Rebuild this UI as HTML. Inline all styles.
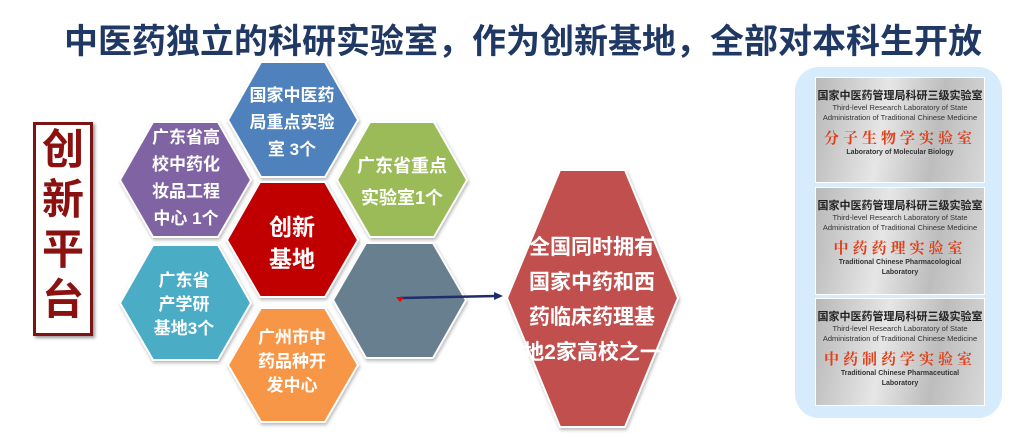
<!DOCTYPE html>
<html><head><meta charset="utf-8"><style>
body{margin:0;width:1025px;height:442px;background:#fff;position:relative;overflow:hidden;font-family:"Liberation Sans","Noto Sans CJK SC",sans-serif}
.t{position:absolute;left:64px;top:14px;width:960px;white-space:nowrap;font-size:34px;font-weight:bold;color:#1f3864;letter-spacing:0px}
.box{position:absolute;left:33px;top:122px;width:54px;height:208px;border:3px solid #7b1414;color:#8b1010;font-size:42px;font-weight:bold;line-height:50px;text-align:center;box-shadow:2px 2px 3px #999}
.plate{position:absolute;left:815px;width:168px;background:linear-gradient(100deg,#b8b8b8,#e6e6e6 40%,#bdbdbd 70%,#d8d8d8);text-align:center;border:1px solid #fff}
.plate .a{font-size:11px;font-weight:bold;color:#222;margin-top:9px}
.plate .b{font-size:7.5px;color:#333;line-height:10px}
.plate .c{font-size:15px;color:#e0401a;font-family:"Noto Serif CJK SC",serif;font-weight:bold;letter-spacing:4px;margin-top:4px}
.plate .d{font-size:7px;font-weight:bold;color:#333;line-height:10px}
</style></head><body>
<div class="t">中医药独立的科研实验室，作为创新基地，全部对本科生开放</div>
<div class="box">创<br>新<br>平<br>台</div>
<svg width="1025" height="442" style="position:absolute;left:0;top:0">
<defs><filter id="s"><feDropShadow dx="1" dy="2" stdDeviation="1.5" flood-color="#888" flood-opacity=".6"/></filter></defs>
<g filter="url(#s)" stroke="#fff" stroke-width="2">
<polygon points="228,120 261,62 325,62 358,120 325,177 261,177" fill="#4f81bd"/>
<polygon points="120,180 153,122 218,122 251,180 218,237 153,237" fill="#8064a2"/>
<polygon points="337,180 370,122 434,122 467,180 434,237 370,237" fill="#9bbb59"/>
<polygon points="227,240 260,182 325,182 358,240 325,297 260,297" fill="#c00000"/>
<polygon points="120,303 153,245 218,245 251,303 218,360 153,360" fill="#4bacc6"/>
<polygon points="333,300 366,243 433,243 466,300 433,358 366,358" fill="#687f8f"/>
<polygon points="228,365 261,308 325,308 358,365 325,422 261,422" fill="#f79646"/>
<polygon points="507,298 560,170 625,170 678,298 625,427 560,427" fill="#c0504d"/>
</g>
<line x1="400" y1="298" x2="496" y2="296" stroke="#1f2d6b" stroke-width="2.5"/>
<polygon points="503,296 494,292 494,300" fill="#1f2d6b"/>
<polygon points="396,297 404,297 400,302" fill="#e00"/>
<g fill="#fff" font-weight="bold" text-anchor="middle" font-family="Liberation Sans,Noto Sans CJK SC,sans-serif">
<text x="292" y="101" font-size="17">国家中医药</text><text x="292" y="128" font-size="17">局重点实验</text><text x="292" y="155" font-size="17">室 3个</text>
<text x="186" y="143" font-size="17">广东省高</text><text x="186" y="170" font-size="17">校中药化</text><text x="186" y="197" font-size="17">妆品工程</text><text x="186" y="224" font-size="17">中心 1个</text>
<text x="402" y="172" font-size="18">广东省重点</text><text x="402" y="204" font-size="18">实验室1个</text>
<text x="292" y="235" font-size="23">创新</text><text x="292" y="267" font-size="23">基地</text>
<text x="184" y="286" font-size="17">广东省</text><text x="184" y="310" font-size="17">产学研</text><text x="184" y="334" font-size="17">基地3个</text>
<text x="292" y="343" font-size="17">广州市中</text><text x="292" y="367" font-size="17">药品种开</text><text x="292" y="391" font-size="17">发中心</text>
<text x="592" y="254" font-size="21">全国同时拥有</text><text x="592" y="289" font-size="21">国家中药和西</text><text x="592" y="324" font-size="21">药临床药理基</text><text x="592" y="359" font-size="21">地2家高校之一</text>
</g>
</svg>
<div style="position:absolute;left:795px;top:67px;width:207px;height:351px;background:#d6ebfb;border-radius:24px"></div>
<div class="plate" style="top:77px;height:104px"><div class="a">国家中医药管理局科研三级实验室</div><div class="b">Third-level Research Laboratory of State<br>Administration of Traditional Chinese Medicine</div><div class="c">分子生物学实验室</div><div class="d">Laboratory of Molecular Biology</div></div>
<div class="plate" style="top:187px;height:106px"><div class="a">国家中医药管理局科研三级实验室</div><div class="b">Third-level Research Laboratory of State<br>Administration of Traditional Chinese Medicine</div><div class="c">中药药理实验室</div><div class="d">Traditional Chinese Pharmacological<br>Laboratory</div></div>
<div class="plate" style="top:298px;height:106px"><div class="a">国家中医药管理局科研三级实验室</div><div class="b">Third-level Research Laboratory of State<br>Administration of Traditional Chinese Medicine</div><div class="c">中药制药学实验室</div><div class="d">Traditional Chinese Pharmaceutical<br>Laboratory</div></div>
</body></html>
